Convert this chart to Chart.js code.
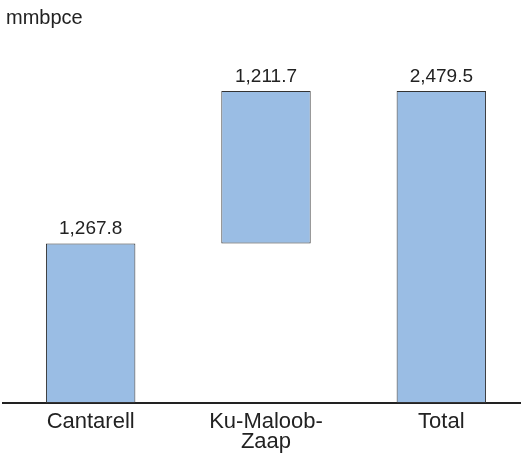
<!DOCTYPE html>
<html>
<head>
<meta charset="utf-8">
<script src="https://cdn.jsdelivr.net/npm/chart.js@4/dist/chart.umd.min.js"></script>
<style>
	html, body { margin: 0; padding: 0; background: #fff; overflow: hidden; }
	#wrap { position: relative; width: 530px; height: 454px; }
	#unit { position: absolute; left: 6px; top: 6px; font: 20px "Liberation Sans", Arial, sans-serif; color: #222; }
</style>
</head>
<body>
<div id="wrap">
	<div id="unit">mmbpce</div>
	<canvas id="canvas" width="530" height="454"></canvas>
</div>
<script>

const fields		= [['Cantarell'], ['Ku-Maloob-', 'Zaap'], ['Total']];
const contributions	= [1267.8, 1211.7];
const total_value	= 2479.5;
const value_labels	= ['1,267.8', '1,211.7', '2,479.5'];

(function() {

	/* floating bars: each field stacks on the previous one, total from 0 */
	var ranges = [];
	var running = 0;
	for (var i = 0; i < contributions.length; i++) {
		ranges.push([running, running + contributions[i]]);
		running += contributions[i];
	}
	ranges.push([0, total_value]);

	var value_label_plugin = {
		id: 'valueLabels',
		afterDatasetsDraw: function (chart) {
			var ctx = chart.ctx;
			var meta = chart.getDatasetMeta(0);
			ctx.save();
			ctx.font = '19px "Liberation Sans", Arial, sans-serif';
			ctx.fillStyle = '#222';
			ctx.textAlign = 'center';
			ctx.textBaseline = 'bottom';
			meta.data.forEach(function (bar, idx) {
				ctx.fillText(value_labels[idx], bar.x, bar.y - 5);
			});
			ctx.restore();
		}
	};

	var chart_config = {
		type: 'bar',
		data: {
			labels: fields,
			datasets: [{
				data: ranges,
				backgroundColor: '#9abde4',
				borderColor: '#333',
				borderWidth: 1,
				borderSkipped: false,
				categoryPercentage: 1,
				barPercentage: 0.51
			}]
		},
		options: {
			responsive: false,
			animation: false,
			layout: { padding: { top: 38, left: 3, right: 1, bottom: 0 } },
			plugins: {
				legend: { display: false },
				tooltip: { enabled: false }
			},
			scales: {
				x: {
					grid: { display: false },
					border: { display: true, color: '#222', width: 2 },
					ticks: {
						color: '#222',
						padding: 0,
						font: { family: '"Liberation Sans", Arial, sans-serif', size: 22, lineHeight: 0.95 }
					},
					afterFit: function (scale) { scale.height = 51; }
				},
				y: {
					display: false,
					min: 0,
					max: 2900
				}
			}
		},
		plugins: [value_label_plugin]
	};

	var ctx = document.getElementById('canvas').getContext('2d');
	window.myBar = new Chart(ctx, chart_config);
})();
</script>
</body>
</html>
